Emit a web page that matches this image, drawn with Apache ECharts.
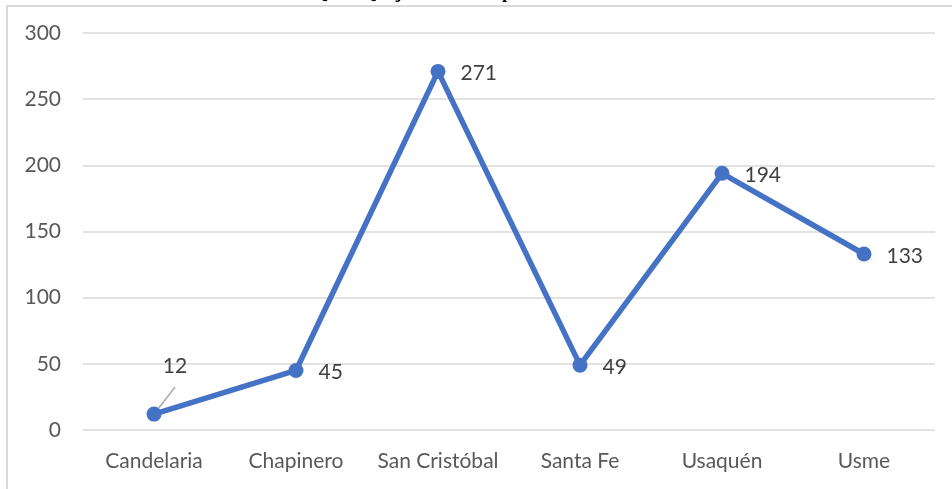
<!DOCTYPE html>
<html><head><meta charset="utf-8">
<script src="https://cdn.jsdelivr.net/npm/echarts@6/dist/echarts.min.js"></script>
<style>
html,body{margin:0;padding:0;background:#fff;overflow:hidden;}
#frame{position:absolute;left:6px;top:5px;width:960px;height:500px;border-left:2px solid #d9d9d9;border-top:2px solid #d9d9d9;}
#c{position:absolute;left:0;top:0;width:952px;height:489px;}
</style></head>
<body>
<div id="frame"></div>
<div id="c"></div>
<script>
const categories = ['Candelaria','Chapinero','San Cristóbal','Santa Fe','Usaquén','Usme'];
const values = [12, 45, 271, 49, 194, 133];
const yTicks = [0, 50, 100, 150, 200, 250, 300];
const titleText = 'Gráfica 6. PQRS. Quejas recibidas por localidad a nivel distrital';

const chart = echarts.init(document.getElementById('c'), null, {renderer:'canvas'});
const data = values.map((v, i) => {
  if (i === 0) {
    return {value: v, label: {position: 'top', offset: [21, -15]}, labelLine: {show: true}};
  }
  return v;
});
chart.setOption({
  animation: false,
  title: {
    text: titleText, left: 'center', top: -21,
    textStyle: {fontFamily: 'Liberation Serif', fontWeight: 'bold', fontSize: 19, color: '#000'}
  },
  grid: {left: 83, right: 17, top: 33, bottom: 59, containLabel: false},
  xAxis: {
    type: 'category', data: categories, boundaryGap: true,
    axisLine: {show: false}, axisTick: {show: false},
    axisLabel: {color: '#595959', fontSize: 21, fontFamily: 'Lato', margin: 21, interval: 0}
  },
  yAxis: {
    type: 'value', min: yTicks[0], max: yTicks[yTicks.length-1], interval: 50,
    axisLine: {show: false}, axisTick: {show: false},
    axisLabel: {color: '#595959', fontSize: 21, fontFamily: 'Lato', margin: 22},
    splitLine: {lineStyle: {color: '#d9d9d9', width: 1.5}}
  },
  series: [{
    type: 'line', data: data,
    lineStyle: {color: '#4472C4', width: 5.5},
    itemStyle: {color: '#4472C4'},
    symbol: 'circle', symbolSize: 15,
    label: {show: true, position: 'right', distance: 15, offset: [0, 2], color: '#404040', fontSize: 21, fontFamily: 'Lato'},
    labelLine: {lineStyle: {color: '#a6a6a6', width: 1.5}}
  }]
});
</script>
</body></html>
